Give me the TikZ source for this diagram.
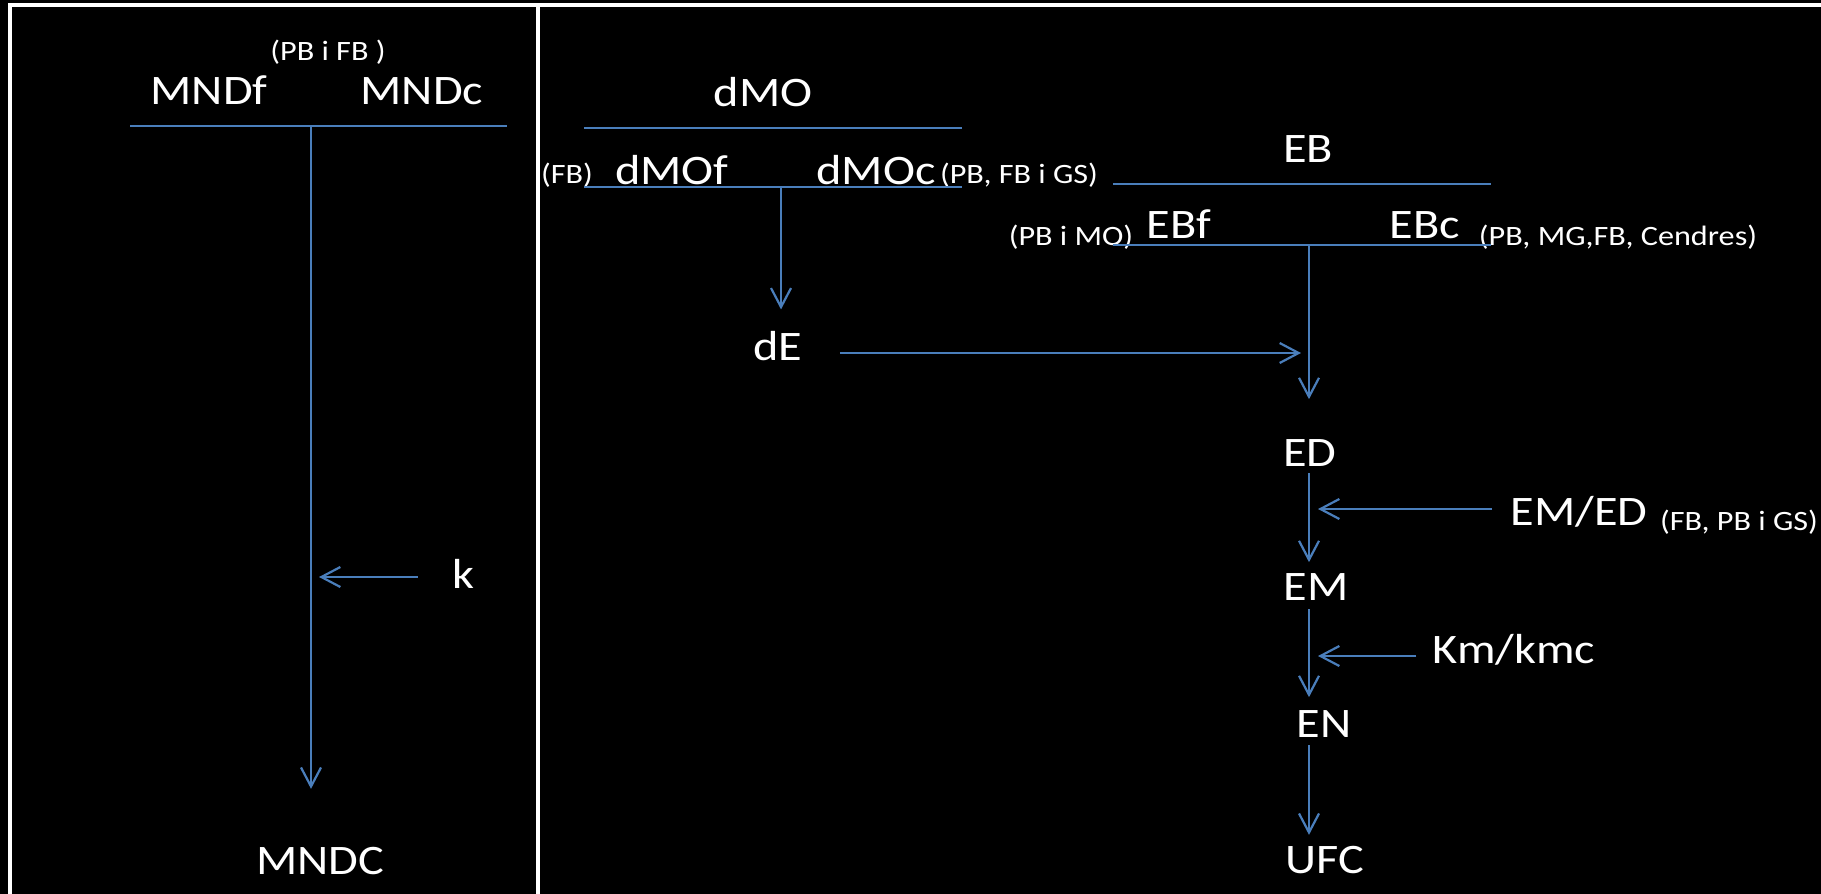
\documentclass[tikz,border=0pt]{standalone}
\usepackage{fontspec}
\setmainfont{Carlito}[FakeStretch=1.15]
\usetikzlibrary{arrows.meta}
\definecolor{lineblue}{RGB}{74,126,187}
\begin{document}
\begin{tikzpicture}[x=0.5pt, y=-0.5pt,
	big/.style={text=white, inner sep=0pt, anchor=base, font=\fontsize{21}{25}\selectfont},
	small/.style={text=white, inner sep=0pt, anchor=base, font=\fontsize{14}{17}\selectfont},
	bar/.style={draw=lineblue, line width=1.1pt},
	flow/.style={bar, -{Straight Barb[length=9.5pt, width=10pt]}},
	frame/.style={draw=white, line width=2.3pt}]
	\fill[black] (0,0) rectangle (1821,894);
	\useasboundingbox (0,0) rectangle (1821,894);
	\draw[frame] (10,894) -- (10,5) -- (1821,5);
	\draw[frame] (538,5) -- (538,894);

	\node[small] (pbfb) at (328,60) {(PB i FB )};
	\node[big] (mndf) at (209,104) {MNDf};
	\node[big] (mndc) at (422,104) {MNDc};
	\node[big] (k) at (463,588) {k};
	\node[big] (mndC) at (320,874) {MNDC};
	\coordinate (mndL) at (130,126);
	\coordinate (mndR) at (507,126);
	\coordinate (mndJ) at (311,126);
	\coordinate (kin) at ([yshift=5.5pt]k.base west);
	\draw[bar] (mndL) -- (mndR);
	\draw[flow, shorten >=28.75pt] (mndJ) -- (mndC.north -| mndJ);
	\draw[flow, shorten <=17pt, shorten >=4pt] (kin) -- (kin -| mndJ);

	\node[big] (dmo) at (763,106) {dMO};
	\node[small] (dmofnote) at (567,183) {(FB)};
	\node[big] (dmof) at (672,184) {dMOf};
	\node[big] (dmoc) at (876,184) {dMOc};
	\node[small] (dmocnote) at (1019,183) {(PB, FB i GS)};
	\coordinate (dmoTL) at (584,128);
	\coordinate (dmoTR) at (962,128);
	\coordinate (dmoBL) at (584,187);
	\coordinate (dmoBR) at (962,187);
	\coordinate (dmoJ) at (781,187);
	\draw[bar] (dmoTL) -- (dmoTR);
	\draw[bar] (dmoBL) -- (dmoBR);
	\node[big] (de) at (778,360) {dE};
	\draw[flow, shorten >=10.5pt] (dmoJ) -- (de.north -| dmoJ);

	\node[big] (eb) at (1308,162) {EB};
	\node[small] (ebfnote) at (1071,245) {(PB i MO)};
	\node[big] (ebf) at (1179,238) {EBf};
	\node[big] (ebc) at (1425,238) {EBc};
	\node[small] (ebcnote) at (1618,245) {(PB, MG,FB, Cendres)};
	\coordinate (ebTL) at (1113,184);
	\coordinate (ebTR) at (1491,184);
	\coordinate (ebBL) at (1113,245);
	\coordinate (ebBR) at (1491,245);
	\coordinate (ebJ) at (1309,245);
	\draw[bar] (ebTL) -- (ebTR);
	\draw[bar] (ebBL) -- (ebBR);

	\node[big] (ed) at (1310,466) {ED};
	\node[big] (emed) at (1579,525) {EM/ED};
	\node[small] (emednote) at (1739,530) {(FB, PB i GS)};
	\node[big] (em) at (1316,600) {EM};
	\node[big] (kmkmc) at (1514,663) {Km/kmc};
	\node[big] (en) at (1324,737) {EN};
	\node[big] (ufc) at (1325,873) {UFC};
	\coordinate (dein) at ([yshift=3.5pt]de.base east);
	\coordinate (emedin) at ([yshift=8pt]emed.base west);
	\coordinate (kmin) at ([yshift=3.5pt]kmkmc.base west);
	\draw[flow, shorten >=19.75pt] (ebJ) -- (ed.north -| ebJ);
	\draw[flow, shorten <=18.5pt, shorten >=4pt] (dein) -- (dein -| ebJ);
	\draw[flow, shorten <=3.5pt, shorten >=5.25pt] (ed.south -| ebJ) -- (em.north -| ebJ);
	\draw[flow, shorten <=4.5pt, shorten >=6.25pt] (em.south -| ebJ) -- (en.north -| ebJ);
	\draw[flow, shorten <=4pt, shorten >=5.25pt] (en.south -| ebJ) -- (ufc.north -| ebJ);
	\draw[flow, shorten <=9pt, shorten >=4.5pt] (emedin) -- (emedin -| ebJ);
	\draw[flow, shorten <=8pt, shorten >=4.5pt] (kmin) -- (kmin -| ebJ);
\end{tikzpicture}
\end{document}
